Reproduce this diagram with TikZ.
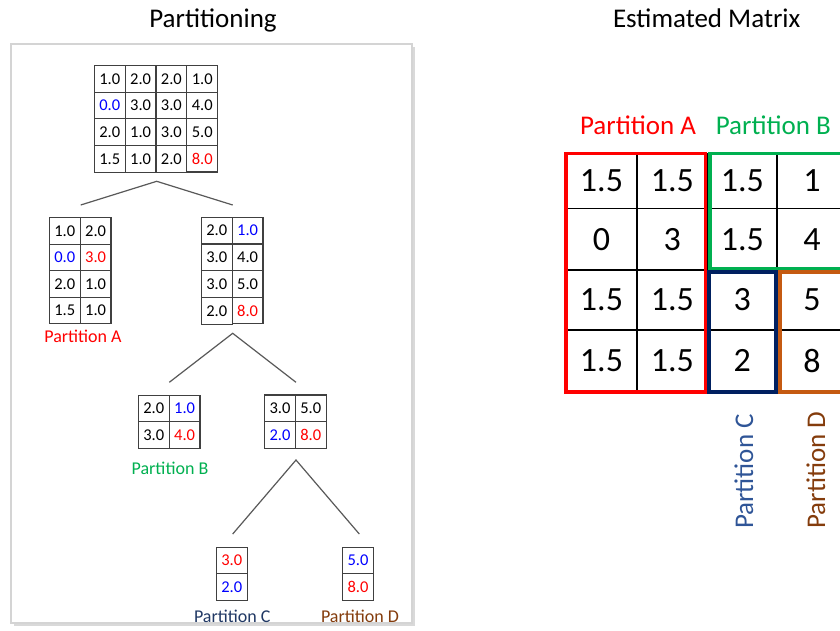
\documentclass[tikz,border=0pt]{standalone}
\usepackage{fontspec}
\setmainfont{Carlito}
\usetikzlibrary{matrix,shadows}
\definecolor{numblue}{HTML}{0000FF}
\definecolor{numred}{HTML}{FF0000}
\definecolor{pgreen}{HTML}{00B050}
\definecolor{pnavy}{HTML}{002060}
\definecolor{pnavytext}{HTML}{203864}
\definecolor{pbluetext}{HTML}{2F5597}
\definecolor{porange}{HTML}{C55A11}
\definecolor{pbrown}{HTML}{843C0C}
\definecolor{cellline}{HTML}{404040}
\definecolor{treeline}{HTML}{595959}
\definecolor{panelline}{HTML}{D4D4D4}
\begin{document}
\begin{tikzpicture}[x=1pt,y=-1pt,
  heading/.style={font=\fontsize{27}{30}\selectfont, anchor=base},
  plabel/.style={font=\fontsize{18}{20}\selectfont, anchor=base},
  biglabel/.style={font=\fontsize{27}{30}\selectfont, anchor=base},
  cellgrid/.style={matrix of nodes, column sep=-1.1pt, row sep=-1.1pt, inner sep=0pt,
    nodes={draw=cellline, line width=1.1pt, minimum width=30.8pt, minimum height=26.6pt,
      inner sep=0pt, font=\fontsize{16.5}{17}\selectfont}},
  treeedge/.style={draw=treeline, line width=1.2pt},
  gridline/.style={draw=black, line width=1.4pt},
  partbox/.style={line width=3.6pt},
  bignum/.style={font=\fontsize{34}{36}\selectfont},
  B/.style={text=numblue},
  R/.style={text=numred}
]
\useasboundingbox (0,0) rectangle (840,630);
\path[clip] (0,0) rectangle (840,630);

% ---------- left panel ----------
\path[draw=panelline, line width=1.5pt, fill=white,
  drop shadow={shadow xshift=2.5pt, shadow yshift=-2.5pt, opacity=0.3}]
  (11,44) rectangle (412,623);

\node[heading] (t1) at (213,27) {Partitioning};

\matrix (m0) [cellgrid] at (156,119) {
  1.0 & 2.0 & 2.0 & 1.0 \\
  |[B]| 0.0 & 3.0 & 3.0 & 4.0 \\
  2.0 & 1.0 & 3.0 & 5.0 \\
  1.5 & 1.0 & 2.0 & |[R]| 8.0 \\
};

\matrix (mL) [cellgrid] at (80.2,270.7) {
  1.0 & 2.0 \\
  |[B]| 0.0 & |[R]| 3.0 \\
  2.0 & 1.0 \\
  1.5 & 1.0 \\
};

\matrix (mR) [cellgrid] at (232.2,270.7) {
  2.0 & |[B]| 1.0 \\
  3.0 & 4.0 \\
  3.0 & 5.0 \\
  2.0 & |[R]| 8.0 \\
};

\matrix (mB) [cellgrid] at (169.2,421.7) {
  2.0 & |[B]| 1.0 \\
  3.0 & |[R]| 4.0 \\
};

\matrix (mRR) [cellgrid] at (295.4,421.7) {
  3.0 & 5.0 \\
  |[B]| 2.0 & |[R]| 8.0 \\
};

\matrix (mC) [cellgrid] at (231.7,573.8) {
  |[R]| 3.0 \\
  |[B]| 2.0 \\
};

\matrix (mD) [cellgrid] at (358,573.8) {
  |[B]| 5.0 \\
  |[R]| 8.0 \\
};

% split lines
\coordinate (s0) at (156.7,181.3);
\coordinate (s0l) at (80.7,205);
\coordinate (s0r) at (232.7,205);
\coordinate (s1) at (232.7,333.3);
\coordinate (s1l) at (169.3,382.3);
\coordinate (s1r) at (296,382.3);
\coordinate (s2) at (296,460);
\coordinate (s2l) at (232.7,534);
\coordinate (s2r) at (359.3,534);
\draw[treeedge] (s0l) -- (s0) -- (s0r);
\draw[treeedge] (s1l) -- (s1) -- (s1r);
\draw[treeedge] (s2l) -- (s2) -- (s2r);

\node[plabel, text=numred] (lA) at (83,342) {Partition A};
\node[plabel, text=pgreen] (lB) at (170,474) {Partition B};
\node[plabel, text=pnavytext] (lC) at (232.3,622) {Partition C};
\node[plabel, text=pbrown] (lD) at (360,622) {Partition D};

% ---------- estimated matrix ----------
\node[heading] (t2) at (706.7,27) {Estimated Matrix};

\foreach \x in {637,707.5,777}
  \draw[gridline] (\x,153) -- (\x,391.7);
\foreach \y in {208.3,270,330}
  \draw[gridline] (566,\y) -- (850,\y);

\draw[partbox, draw=numred] (565.7,153.5) rectangle (705.5,391.7);
\draw[partbox, draw=pgreen] (709.7,153.5) rectangle (870,268.3);
\draw[partbox, draw=pnavy] (709,272) rectangle (775.7,391.7);
\draw[partbox, draw=porange] (779.7,272) rectangle (870,391.7);

\node[bignum] (e11) at (601.5,180.7) {1.5};
\node[bignum] (e12) at (672.3,180.7) {1.5};
\node[bignum] (e13) at (742.3,180.7) {1.5};
\node[bignum] (e14) at (812,180.7) {1};
\node[bignum] (e21) at (601.5,239.2) {0};
\node[bignum] (e22) at (672.3,239.2) {3};
\node[bignum] (e23) at (742.3,239.2) {1.5};
\node[bignum] (e24) at (812,239.2) {4};
\node[bignum] (e31) at (601.5,300) {1.5};
\node[bignum] (e32) at (672.3,300) {1.5};
\node[bignum] (e33) at (742.3,300) {3};
\node[bignum] (e34) at (812,300) {5};
\node[bignum] (e41) at (601.5,360.9) {1.5};
\node[bignum] (e42) at (672.3,360.9) {1.5};
\node[bignum] (e43) at (742.3,360.9) {2};
\node[bignum] (e44) at (812,360.9) {8};

\node[biglabel, text=numred] (rA) at (638,134) {Partition A};
\node[biglabel, text=pgreen] (rB) at (773.3,134) {Partition B};
\node[biglabel, text=pbluetext, rotate=90] (rC) at (753,471.5) {Partition C};
\node[biglabel, text=pbrown, rotate=90] (rD) at (825,470) {Partition D};
\end{tikzpicture}
\end{document}
